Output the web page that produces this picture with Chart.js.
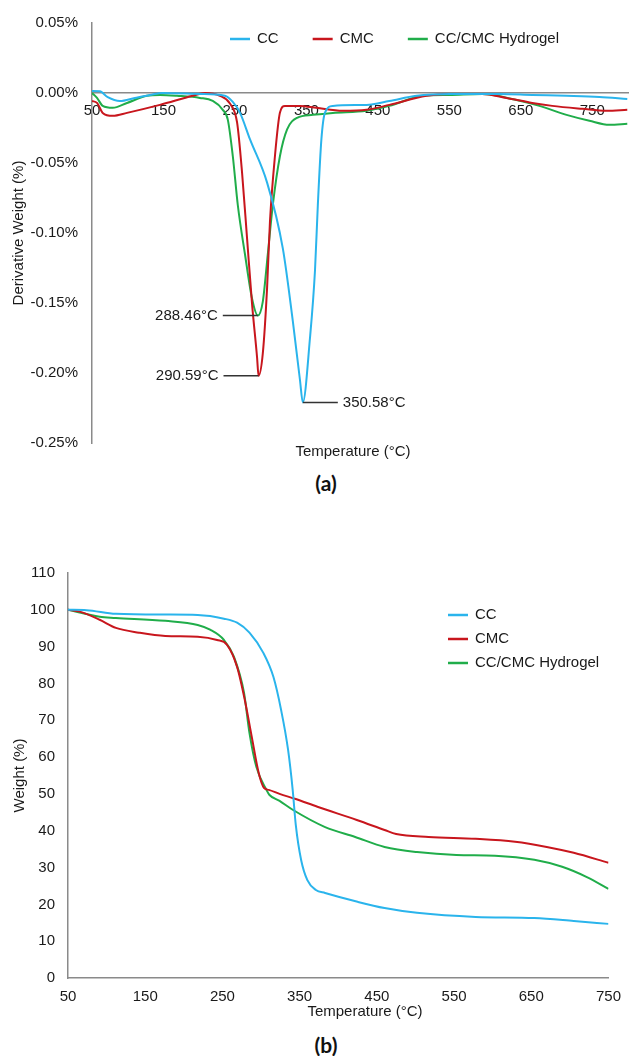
<!DOCTYPE html>
<html>
<head>
<meta charset="utf-8">
<script src="https://cdn.jsdelivr.net/npm/chart.js@4.4.1/dist/chart.umd.min.js"></script>
<style>
  html, body { margin: 0; padding: 0; background: #fff; }
  body { width: 631px; height: 1056px; position: relative; overflow: hidden; }
  .box { position: absolute; left: 0; width: 631px; }
  #dtgBox { top: 0; height: 470px; }
  #tgaBox { top: 520px; height: 510px; }
  .cap { position: absolute; left: 0; width: 652px; text-align: center;
         font: bold 21px Lato, "Liberation Sans", sans-serif; color: #111; line-height: 26px; }
</style>
</head>
<body>
<div class="box" id="dtgBox"><canvas id="dtgChart" width="631" height="470"></canvas></div>
<div class="cap" style="top:470px">(a)</div>
<div class="box" id="tgaBox"><canvas id="tgaChart" width="631" height="510"></canvas></div>
<div class="cap" style="top:1032px">(b)</div>

<script>
// ── Data ─────────────────────────────────────────────────────
const seriesNames = ["CC", "CMC", "CC/CMC Hydrogel"];
const xTicks      = [50, 150, 250, 350, 450, 550, 650, 750];
const dtgYTicks   = [-0.25, -0.2, -0.15, -0.1, -0.05, 0, 0.05];
const tgaYTicks   = [0, 10, 20, 30, 40, 50, 60, 70, 80, 90, 100, 110];
const peakLabels  = ["350.58°C", "290.59°C", "288.46°C"];

// (a) derivative weight, %
const ccDtgT  = [50, 61, 72, 89, 110, 131, 149, 201, 236, 247, 257, 271, 295, 317, 331, 341, 345, 355, 362, 366, 371, 376, 387, 434, 466, 504, 550, 620, 666, 714, 760, 799];
const ccDtgV  = [0.0014, 0.0012, -0.003, -0.0057, -0.0035, -0.0014, 0, -0.0007, -0.002, -0.0064, -0.014, -0.033, -0.064, -0.111, -0.163, -0.205, -0.221, -0.175, -0.127, -0.080, -0.033, -0.014, -0.0092, -0.0085, -0.0057, -0.002, -0.0007, -0.0007, -0.0014, -0.002, -0.0028, -0.0042];
const cmcDtgT = [50, 57, 65, 79, 99, 145, 191, 208, 229, 243, 253, 260, 267, 274, 281, 283, 289, 295, 299, 306, 313, 320, 341, 364, 401, 434, 466, 518, 550, 596, 630, 666, 694, 736, 770, 799];
const cmcDtgV = [-0.0057, -0.0071, -0.0142, -0.0163, -0.0142, -0.0085, -0.002, 0, -0.002, -0.0075, -0.021, -0.057, -0.104, -0.151, -0.189, -0.202, -0.186, -0.139, -0.092, -0.045, -0.014, -0.0092, -0.0092, -0.0106, -0.0127, -0.012, -0.0085, -0.002, -0.0007, -0.0007, -0.0035, -0.0071, -0.0092, -0.0113, -0.0127, -0.012];
const gelDtgT = [50, 57, 65, 79, 99, 127, 145, 169, 201, 219, 233, 240, 247, 254, 264, 274, 282, 289, 296, 303, 313, 323, 337, 359, 387, 434, 466, 513, 550, 596, 644, 676, 714, 746, 774, 799];
const gelDtgV = [0, -0.0035, -0.0092, -0.0106, -0.0071, -0.002, -0.0014, -0.002, -0.0035, -0.0057, -0.012, -0.019, -0.045, -0.080, -0.115, -0.147, -0.159, -0.149, -0.115, -0.080, -0.045, -0.026, -0.0177, -0.0156, -0.0142, -0.0127, -0.0092, -0.002, -0.0014, -0.0007, -0.005, -0.0092, -0.0156, -0.0198, -0.0227, -0.022];

// (b) weight, %
const ccTgaT  = [50, 74, 112, 176, 218, 252, 269, 285, 303, 316, 326, 335, 341, 345, 352, 360, 371, 383, 425, 460, 502, 578, 654, 705, 750];
const ccTgaW  = [100, 99.9, 98.9, 98.7, 98.6, 97.6, 96.5, 93.8, 88.3, 81.8, 72.8, 62, 51.1, 41.6, 32, 26.6, 23.9, 23.1, 20.7, 19, 17.7, 16.6, 16.3, 15.5, 14.7];
const cmcTgaT = [50, 65, 91, 112, 142, 176, 218, 243, 256, 269, 279, 288, 297, 304, 310, 324, 345, 373, 424, 460, 475, 517, 578, 629, 670, 705, 750];
const cmcTgaW = [100, 99.5, 97.3, 95.1, 93.8, 92.9, 92.7, 91.8, 90.5, 84.5, 75.5, 65.5, 55.7, 51.6, 51.1, 50, 48.6, 46.5, 42.9, 40.2, 39.1, 38.3, 37.8, 37, 35.6, 34, 31.3];
const gelTgaT = [50, 91, 112, 176, 218, 234, 252, 265, 278, 285, 294, 307, 311, 324, 341, 383, 422, 460, 502, 553, 603, 654, 690, 722, 750];
const gelTgaW = [100, 98.1, 97.8, 97, 95.9, 94.6, 91.8, 87.2, 77.4, 66.6, 57.3, 51.1, 49.7, 48.1, 45.7, 41, 38.3, 35.6, 34.2, 33.4, 33.2, 32.1, 30.2, 27.4, 24.2];

// ── Styling ──────────────────────────────────────────────────
const COLORS    = ["#2ab4ec", "#c8161d", "#20ad4a"];
const AXIS_GREY = "#8a8a8a";
const TEXT      = "#1a1a1a";
const FONT      = "'Liberation Sans', Arial, sans-serif";

Chart.defaults.font.family = FONT;
Chart.defaults.font.size   = 15;
Chart.defaults.color       = TEXT;

function pts(xs, ys) { return xs.map((t, i) => ({ x: t, y: ys[i] })); }

function lineSet(i, data) {
  return {
    label: seriesNames[i],
    data,
    borderColor: COLORS[i],
    borderWidth: 2,
    pointRadius: 0,
    cubicInterpolationMode: "monotone",
    fill: false
  };
}

// ── Plugins ──────────────────────────────────────────────────
const lineLegend = {
  id: "lineLegend",
  afterDraw(chart, args, opts) {
    const ctx = chart.ctx;
    ctx.save();
    ctx.font = "15px " + FONT;
    ctx.textBaseline = "middle";
    ctx.textAlign = "left";
    let x = opts.x, y = opts.y;
    chart.data.datasets.forEach(ds => {
      ctx.strokeStyle = ds.borderColor;
      ctx.lineWidth = 2.5;
      ctx.beginPath();
      ctx.moveTo(x, y);
      ctx.lineTo(x + 20, y);
      ctx.stroke();
      ctx.fillStyle = TEXT;
      ctx.fillText(ds.label, x + 27, y);
      if (opts.vertical) y += opts.step;
      else x += 27 + ctx.measureText(ds.label).width + opts.step;
    });
    ctx.restore();
  }
};

const axisCaption = {
  id: "axisCaption",
  afterDraw(chart, args, opts) {
    const ctx = chart.ctx;
    ctx.save();
    ctx.font = "15px " + FONT;
    ctx.fillStyle = TEXT;
    ctx.textAlign = "center";
    ctx.textBaseline = "middle";
    ctx.fillText(opts.text, opts.x, opts.y);
    ctx.restore();
  }
};

const peakNotes = {
  id: "peakNotes",
  afterDatasetsDraw(chart, args, opts) {
    const { ctx, scales: { x, y } } = chart;
    ctx.save();
    ctx.font = "15px " + FONT;
    ctx.textBaseline = "middle";
    chart.data.datasets.forEach((ds, i) => {
      let m = ds.data[0];
      ds.data.forEach(p => { if (p.y < m.y) m = p; });
      const px = x.getPixelForValue(m.x);
      const py = y.getPixelForValue(m.y);
      const dir = opts.sides[i] === "right" ? 1 : -1;
      const ex = px + dir * 35;
      ctx.strokeStyle = "#333";
      ctx.lineWidth = 1.5;
      ctx.beginPath();
      ctx.moveTo(px, py);
      ctx.lineTo(ex, py);
      ctx.stroke();
      ctx.fillStyle = TEXT;
      ctx.textAlign = dir > 0 ? "left" : "right";
      ctx.fillText(peakLabels[i], ex + dir * 5, py);
    });
    ctx.restore();
  }
};

const setTicks = list => scale => { scale.ticks = list.map(v => ({ value: v })); };

// ── (a) Derivative weight chart ──────────────────────────────
new Chart(document.getElementById("dtgChart"), {
  type: "line",
  data: {
    datasets: [
      lineSet(0, pts(ccDtgT, ccDtgV)),
      lineSet(1, pts(cmcDtgT, cmcDtgV)),
      lineSet(2, pts(gelDtgT, gelDtgV))
    ]
  },
  options: {
    responsive: false,
    animation: false,
    events: [],
    layout: { padding: { top: 20, right: 3, bottom: 27, left: 0 } },
    plugins: {
      legend: { display: false },
      tooltip: { enabled: false },
      lineLegend: { x: 230, y: 39, step: 34, vertical: false },
      axisCaption: { text: "Temperature (°C)", x: 353, y: 452 },
      peakNotes: { sides: ["right", "left", "left"] }
    },
    scales: {
      x: {
        type: "linear",
        axis: "x",
        position: { y: 0 },
        min: 50, max: 800,
        afterBuildTicks: setTicks(xTicks),
        afterFit: s => { s.height = 0; },
        grid: { display: false, drawTicks: false },
        border: { display: true, color: AXIS_GREY, width: 1.5 },
        ticks: { padding: 9, maxRotation: 0, autoSkip: false }
      },
      y: {
        type: "linear",
        position: "left",
        min: -0.25, max: 0.05,
        afterBuildTicks: setTicks(dtgYTicks),
        afterFit: s => { s.width = 92; },
        grid: { display: false, drawTicks: false },
        border: { display: true, color: AXIS_GREY, width: 1.5 },
        ticks: { padding: 14, callback: v => v.toFixed(2) + "%" },
        title: { display: true, text: "Derivative Weight (%)", padding: { top: 10, bottom: 0 } }
      }
    }
  },
  plugins: [lineLegend, axisCaption, peakNotes]
});

// ── (b) Weight chart ─────────────────────────────────────────
new Chart(document.getElementById("tgaChart"), {
  type: "line",
  data: {
    datasets: [
      lineSet(0, pts(ccTgaT, ccTgaW)),
      lineSet(1, pts(cmcTgaT, cmcTgaW)),
      lineSet(2, pts(gelTgaT, gelTgaW))
    ]
  },
  options: {
    responsive: false,
    animation: false,
    events: [],
    layout: { padding: { top: 53, right: 13, bottom: 24, left: 0 } },
    plugins: {
      legend: { display: false },
      tooltip: { enabled: false },
      lineLegend: { x: 448, y: 95, step: 24, vertical: true },
      axisCaption: { text: "Temperature (°C)", x: 365, y: 492 }
    },
    scales: {
      x: {
        type: "linear",
        position: "bottom",
        min: 50, max: 750,
        afterBuildTicks: setTicks(xTicks),
        afterFit: s => { s.height = 28; },
        grid: { display: false, drawTicks: false },
        border: { display: true, color: AXIS_GREY, width: 1.5 },
        ticks: { padding: 10, maxRotation: 0, autoSkip: false }
      },
      y: {
        type: "linear",
        position: "left",
        min: 0, max: 110,
        afterBuildTicks: setTicks(tgaYTicks),
        afterFit: s => { s.width = 68; },
        grid: { display: false, drawTicks: false },
        border: { display: true, color: AXIS_GREY, width: 1.5 },
        ticks: { padding: 13 },
        title: { display: true, text: "Weight (%)", padding: { top: 11, bottom: 0 } }
      }
    }
  },
  plugins: [lineLegend, axisCaption]
});
</script>
</body>
</html>
